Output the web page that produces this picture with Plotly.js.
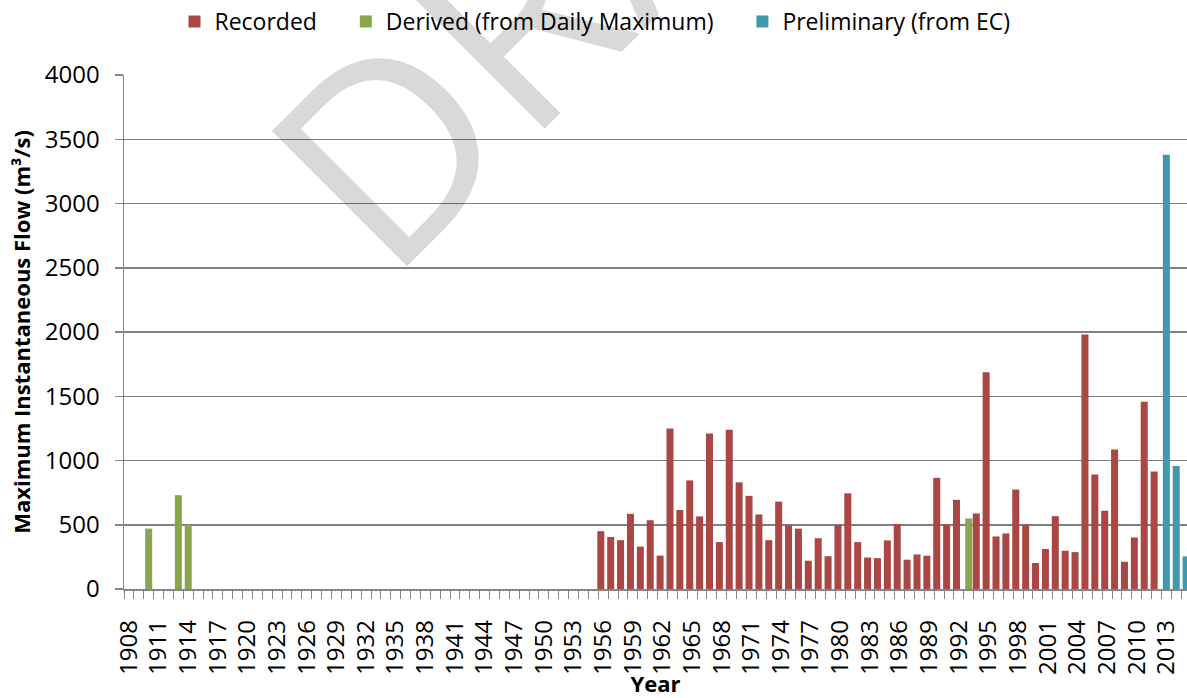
<!DOCTYPE html>
<html>
<head>
<meta charset="utf-8">
<script src="https://cdn.plot.ly/plotly-3.0.1.min.js"></script>
<style>
  html, body { margin: 0; padding: 0; background: #fff; overflow: hidden; }
  #chart { width: 1187px; height: 698px; }
</style>
</head>
<body>
<div id="chart"></div>
<script>
// peak flows (m3/s)
const recordedYears = [1956, 1957, 1958, 1959, 1960, 1961, 1962, 1963, 1964, 1965,
  1966, 1967, 1968, 1969, 1970, 1971, 1972, 1973, 1974, 1975,
  1976, 1977, 1978, 1979, 1980, 1981, 1982, 1983, 1984, 1985,
  1986, 1987, 1988, 1989, 1990, 1991, 1992, 1994, 1995, 1996,
  1997, 1998, 1999, 2000, 2001, 2002, 2003, 2004, 2005, 2006,
  2007, 2008, 2009, 2010, 2011, 2012];
const recordedFlow = [450, 405, 380, 585, 330, 535, 260, 1250, 615, 845,
  565, 1210, 365, 1240, 830, 725, 580, 380, 680, 497,
  470, 220, 395, 255, 497, 745, 365, 245, 240, 378,
  506, 228, 269, 259, 865, 502, 694, 588, 1686, 409,
  432, 774, 502, 202, 311, 567, 298, 287, 1980, 891,
  609, 1085, 212, 401, 1458, 914];

const derivedYears = [1910, 1913, 1914, 1993];
const derivedFlow = [470, 730, 500, 549];

const prelimYears = [2013, 2014, 2015];
const prelimFlow = [3380, 958, 254];

const tickYears = [1908, 1911, 1914, 1917, 1920, 1923, 1926, 1929, 1932, 1935,
  1938, 1941, 1944, 1947, 1950, 1953, 1956, 1959, 1962, 1965,
  1968, 1971, 1974, 1977, 1980, 1983, 1986, 1989, 1992, 1995,
  1998, 2001, 2004, 2007, 2010, 2013];

const font = "'Open Sans', 'Liberation Sans', sans-serif";
const gray = "#868686";
const pad = "\u00a0\u00a0\u00a0\u00a0"; // extra room between legend entries

const data = [
  {
    x: recordedYears, y: recordedFlow, name: "Recorded" + pad, type: "bar",
    width: 0.71, offset: -0.595,
    marker: { color: "#AA4643" }
  },
  {
    x: derivedYears, y: derivedFlow, name: "Derived (from Daily Maximum)" + pad, type: "bar",
    width: 0.71, offset: -0.355,
    marker: { color: "#89A54E" }
  },
  {
    x: prelimYears, y: prelimFlow, name: "Preliminary (from EC)", type: "bar",
    width: 0.71, offset: -0.355,
    marker: { color: "#4198AF" }
  }
];

const layout = {
  width: 1187,
  height: 698,
  margin: { l: 124, r: 0, t: 75, b: 109 },
  paper_bgcolor: "#fff",
  plot_bgcolor: "#fff",
  font: { family: font, size: 23, color: "#000" },
  barmode: "overlay",
  showlegend: true,
  legend: {
    orientation: "h",
    x: 0.0475, xanchor: "left",
    y: 1.105, yanchor: "middle",
    font: { family: font, size: 23, color: "#000" },
    traceorder: "normal"
  },
  xaxis: {
    type: "linear",
    range: [1907.5, 2015.09],
    tickmode: "array",
    tickvals: tickYears,
    ticktext: tickYears.map(String),
    tickangle: -90,
    ticks: "",
    ticklabelstandoff: 20,
    tickfont: { family: font, size: 24 },
    minor: { ticks: "outside", ticklen: 8, tickcolor: gray, tickwidth: 1, tick0: 1907.5, dtick: 1, showgrid: false },
    showline: true, linecolor: gray, linewidth: 1.5,
    showgrid: false, zeroline: false,
    title: { text: "<b>Year</b>", font: { family: font, size: 22 }, standoff: 12 }
  },
  yaxis: {
    range: [0, 4000],
    tickvals: [0, 500, 1000, 1500, 2000, 2500, 3000, 3500, 4000],
    ticks: "outside", ticklen: 8, tickcolor: gray, tickwidth: 1.5,
    ticklabelstandoff: 10,
    tickfont: { family: font, size: 24 },
    showline: true, linecolor: gray, linewidth: 1.5,
    showgrid: true, gridcolor: "#808080", gridwidth: 1.5,
    zeroline: false,
    title: { text: "<b>Maximum Instantaneous Flow (m³/s)</b>", font: { family: font, size: 22 }, standoff: 8 }
  },
  annotations: [{
    text: "DRAFT",
    xref: "paper", yref: "paper",
    x: 0.451, y: 1.295,
    xanchor: "center", yanchor: "middle",
    textangle: -45,
    showarrow: false,
    font: { family: font, size: 268, color: "rgba(0,0,0,0.15)" }
  }]
};

Plotly.newPlot("chart", data, layout, { displayModeBar: false, staticPlot: true });
</script>
</body>
</html>
